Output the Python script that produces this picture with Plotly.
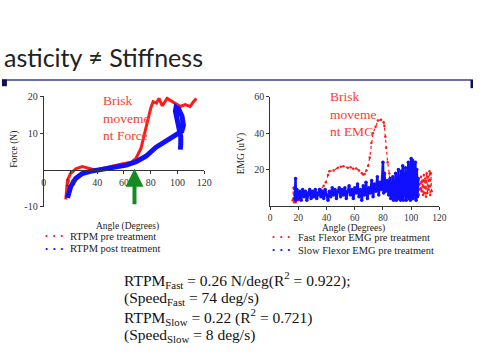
import plotly.graph_objects as go

W, H = 480, 360

# ---------------- data ----------------
# Left chart: Force (N) vs Angle (deg)
pre_angle = [16.5, 17.8, 20, 24, 28.8, 33.6, 38.5, 44, 49.5, 55, 59.3, 65.5, 69, 72.8, 75.2, 77.7,
             80.1, 81.8, 84.3, 86.2, 88.7, 92.3, 96, 99, 102.2, 105.8, 109.5, 112, 114.3]
pre_force = [-8, -2.8, -1, 0.3, 0.9, 0.5, 0, 0.4, 0.9, 1.3, 1.7, 2.1, 3.1, 5.9, 9.4, 13.7,
             16.8, 18.5, 18.1, 19.4, 17.4, 19.4, 18.5, 18.0, 17.2, 17.7, 17.2, 18.5, 19.4]
post_angle = [17.8, 20.2, 23.9, 28.8, 34.9, 42.2, 52, 61.8, 69.1, 76.5, 83.8, 92.3, 99.7, 103.3,
              104.5, 103.5, 101, 99, 98.5, 100, 101.5, 102.5, 102.5, 102.2]
post_force = [-7.6, -4.5, -2.3, -1, -0.4, 0, 0.5, 1.3, 2.2, 3.7, 6.1, 8.1, 9.6, 10.5,
              12, 14.5, 16.5, 17, 16, 13.5, 11, 9, 7, 5.5]

# Right chart: EMG (uV) vs Angle (deg)
fast_angle = [16, 16.5, 17, 17.5, 18, 19, 20, 22, 25, 28, 30, 33, 35, 36, 38, 39.5, 41, 42, 45, 48,
              50, 52, 55, 57, 59, 61, 63, 65, 66, 67, 68.3, 69.5, 70.6, 71.8, 72.9, 74.8, 76.4,
              78.7, 80.5, 81, 81.7, 82.2, 83.3, 84.5, 85, 85.5, 86, 86.8, 87.5, 88, 89, 90, 92,
              94, 95, 97, 98, 100, 101, 102, 103, 104, 105, 105.5, 106, 106.5, 107, 107.5, 108,
              108.5, 109, 109.5, 110, 110.5, 111, 111.5, 112, 112.5, 113, 113.5, 114, 114.5]
fast_emg = [3, 10, 2, 7, 2, 5, 3, 6, 5, 6, 5, 7, 6, 9, 11, 13, 17, 19, 19.5, 21,
            21.5, 21.8, 21, 21.2, 20.4, 20.6, 19.5, 18, 17.2, 17.5, 19.5, 22, 26.6, 34.6, 39.9, 43.5, 47,
            47.4, 46, 44, 38, 32, 24, 17.8, 14, 10, 12, 6, 8, 4, 6, 4, 5,
            4, 7, 5, 8, 6, 10, 7, 12, 8, 14, 6, 12, 9, 16, 8, 14,
            6, 17, 7, 15, 5, 18, 7, 16, 9, 19, 6, 18, 8]
slow_angle = [17.5, 18, 18.3, 19, 20, 21, 22, 23, 24, 25, 26, 27, 28, 29, 30, 31, 32, 33, 34, 35,
              36, 37, 38, 39, 40, 41, 42, 43, 44, 45, 46, 47, 48, 49, 50, 51, 52, 53, 54, 55, 56,
              57, 58, 59, 60, 61, 62, 63, 64, 65, 66, 67, 68, 69, 70, 71, 72, 73, 74, 75, 76, 77,
              78, 79, 80, 80.5, 81, 82, 83, 84, 85, 85.5, 86, 86.5, 87, 87.5, 88, 88.5, 89, 89.5,
              90, 90.5, 91, 91.5, 92, 92.5, 93, 93.5, 94, 94.5, 95, 95.5, 96, 96.5, 97, 97.5, 98,
              98.5, 99, 99.5, 100, 100.5, 101, 101.5, 102, 102.5, 103, 103.5, 104, 104.5, 105]
slow_emg = [4, 15, 3, 9, 4, 8, 3, 9, 5, 8, 3, 7, 9, 4, 8, 5, 9, 4, 7, 9,
            5, 8, 4, 9, 6, 3, 8, 5, 10, 6, 9, 4, 8, 10, 5, 9, 6, 10, 4, 8, 11,
            6, 9, 4, 10, 7, 12, 5, 9, 3, 11, 6, 13, 4, 10, 7, 14, 5, 12, 8, 16, 6,
            13, 9, 24, 7, 18, 8, 14, 6, 15, 4, 12, 5, 16, 3, 13, 6, 18, 3,
            14, 5, 20, 4, 16, 3, 19, 5, 22, 3, 17, 6, 21, 3, 18, 5, 24,
            4, 22, 3, 26, 5, 25, 4, 23, 6, 24, 3, 20, 5, 15]

angle_ticks = [0, 20, 40, 60, 80, 100, 120]
force_ticks = [-10, 10, 20]
force_ticktext = ["-10", "10", "20"]
emg_ticks = [20, 40, 60]

RED = "#ff1a1a"
BLUE = "#1010ff"
NOTE_RED = "#ff3b30"
GREEN = "#168a22"
SERIF = "Liberation Serif"
AX = "#333333"


def py(p):
    return 1 - p / H


def pxx(p):
    return p / W


fig = go.Figure()

# Left chart traces
fig.add_trace(go.Scatter(x=pre_angle, y=pre_force, mode="lines", line=dict(color=RED, width=3),
                         xaxis="x", yaxis="y", showlegend=False, name="RTPM pre treatment"))
fig.add_trace(go.Scatter(x=post_angle, y=post_force, mode="lines", line=dict(color=BLUE, width=5),
                         xaxis="x", yaxis="y", showlegend=False, name="RTPM post treatment"))
# Right chart traces
fig.add_trace(go.Scatter(x=fast_angle, y=fast_emg, mode="lines+markers",
                         line=dict(color=RED, width=1.2, dash="dot"), marker=dict(color=RED, size=2.5),
                         xaxis="x2", yaxis="y2", showlegend=False, name="Fast Flexor EMG pre treatment"))
fig.add_trace(go.Scatter(x=slow_angle, y=slow_emg, mode="lines+markers",
                         line=dict(color=BLUE, width=2.5), marker=dict(color=BLUE, size=3.5),
                         xaxis="x2", yaxis="y2", showlegend=False, name="Slow Flexor EMG pre treatment"))

axis_common = dict(showline=True, linecolor=AX, linewidth=1, ticks="outside", ticklen=3,
                   tickcolor=AX, showgrid=False, zeroline=False)
tick_font = dict(family=SERIF, size=10, color="#333")
tick_font_small = dict(family=SERIF, size=9.5, color="#333")

fig.update_layout(
    width=W, height=H, autosize=False,
    margin=dict(l=0, r=0, t=0, b=0),
    paper_bgcolor="white", plot_bgcolor="rgba(0,0,0,0)",
    showlegend=False,
    xaxis=dict(domain=[pxx(42.5), pxx(206)], range=[0, 120], tickvals=angle_ticks,
               anchor="free", position=py(169.3), tickfont=tick_font, **axis_common),
    yaxis=dict(domain=[py(207.7), py(93.3)], range=[-10, 20], tickvals=force_ticks,
               ticktext=force_ticktext, anchor="x", tickfont=tick_font, **axis_common),
    xaxis2=dict(domain=[pxx(273.3), pxx(445.7)], range=[0, 120], tickvals=angle_ticks,
                anchor="y2", tickfont=tick_font_small, **axis_common),
    yaxis2=dict(domain=[py(206.7), py(94)], range=[0, 60], tickvals=emg_ticks,
                anchor="x2", tickfont=tick_font, **axis_common),
)

ann = []
# Slide title (as visible on the slide crop)
ann.append(dict(text="asticity ≠ Stiffness", xref="paper", yref="paper", x=0, y=py(53),
                xanchor="left", yanchor="middle", showarrow=False,
                font=dict(family="Lato", size=25, color="#222")))

# Axis titles
ann.append(dict(text="Force (N)", xref="paper", yref="paper", x=pxx(12), y=py(148), textangle=-90,
                xanchor="center", yanchor="middle", showarrow=False,
                font=dict(family=SERIF, size=9.5, color="#222")))
ann.append(dict(text="EMG (uV)", xref="paper", yref="paper", x=pxx(244), y=py(153), textangle=-90,
                xanchor="center", yanchor="middle", showarrow=False,
                font=dict(family=SERIF, size=9.5, color="#222")))
for cx, cy in ((128, 228), (358, 230)):
    ann.append(dict(text="Angle (Degrees)", xref="paper", yref="paper", x=pxx(cx), y=py(cy),
                    xanchor="center", yanchor="middle", showarrow=False,
                    font=dict(family=SERIF, size=9.5, color="#222")))

# Red notes
ann.append(dict(text="Brisk<br>moveme<br>nt Force", xref="paper", yref="paper", x=pxx(101), y=py(88),
                xanchor="left", yanchor="top", align="left", showarrow=False,
                font=dict(family=SERIF, size=13.5, color=NOTE_RED)))
ann.append(dict(text="Brisk<br>moveme<br>nt EMG", xref="paper", yref="paper", x=pxx(332), y=py(84),
                xanchor="left", yanchor="top", align="left", showarrow=False,
                font=dict(family=SERIF, size=13.5, color=NOTE_RED)))

# Green arrows
ann.append(dict(text="", xref="x", yref="y", x=67.9, y=0.3, ax=0, ay=37, axref="pixel", ayref="pixel",
                showarrow=True, arrowhead=2, arrowsize=0.9, arrowwidth=4, arrowcolor=GREEN))
ann.append(dict(text="", xref="x2", yref="y2", x=66.5, y=-0.2, ax=0, ay=30, axref="pixel", ayref="pixel",
                showarrow=True, arrowhead=2, arrowsize=0.9, arrowwidth=4, arrowcolor=GREEN))

# Legends (drawn as text)
legend_items = [
    (42, 67, 238, RED, "RTPM pre treatment"),
    (42, 67, 251, BLUE, "RTPM post treatment"),
    (273, 300, 239, RED, "Fast Flexor EMG pre treatment"),
    (273, 300, 252.5, BLUE, "Slow Flexor EMG pre treatment"),
]
for dx, tx, ty, col, label in legend_items:
    ann.append(dict(text="•  •  •", xref="paper", yref="paper", x=pxx(dx), y=py(ty),
                    xanchor="left", yanchor="middle", showarrow=False,
                    font=dict(family=SERIF, size=9, color=col)))
    ann.append(dict(text=label, xref="paper", yref="paper", x=pxx(tx), y=py(ty),
                    xanchor="left", yanchor="middle", showarrow=False,
                    font=dict(family=SERIF, size=10.5, color="#222")))

# Bottom equations
eq_lines = [
    (283, "RTPM<sub>Fast</sub> = 0.26 N/deg(R<sup>2</sup> = 0.922);"),
    (302.5, "(Speed<sub>Fast</sub> = 74 deg/s)"),
    (321.7, "RTPM<sub>Slow</sub> = 0.22 (R<sup>2</sup> = 0.721)"),
    (341, "(Speed<sub>Slow</sub> = 8 deg/s)"),
]
for ty, txt in eq_lines:
    ann.append(dict(text=txt, xref="paper", yref="paper", x=pxx(122), y=py(ty),
                    xanchor="left", yanchor="middle", showarrow=False,
                    font=dict(family=SERIF, size=15.5, color="#111")))

fig.update_layout(annotations=ann)

# Slide decorations: top rule and corner squares
fig.update_layout(shapes=[
    dict(type="line", xref="paper", yref="paper", x0=0, x1=pxx(478), y0=py(76.5), y1=py(76.5),
         line=dict(color="#3a3f8f", width=1.5)),
    dict(type="rect", xref="paper", yref="paper", x0=0, x1=pxx(5), y0=py(83), y1=py(76),
         fillcolor="#0d0d5e", line=dict(width=0)),
    dict(type="rect", xref="paper", yref="paper", x0=pxx(477.5), x1=1, y0=py(85), y1=py(76),
         fillcolor="#0d0d5e", line=dict(width=0)),
])

fig.write_html("out.html", config={"displayModeBar": False},
               post_script="document.body.style.margin='0';document.body.style.padding='0';")
